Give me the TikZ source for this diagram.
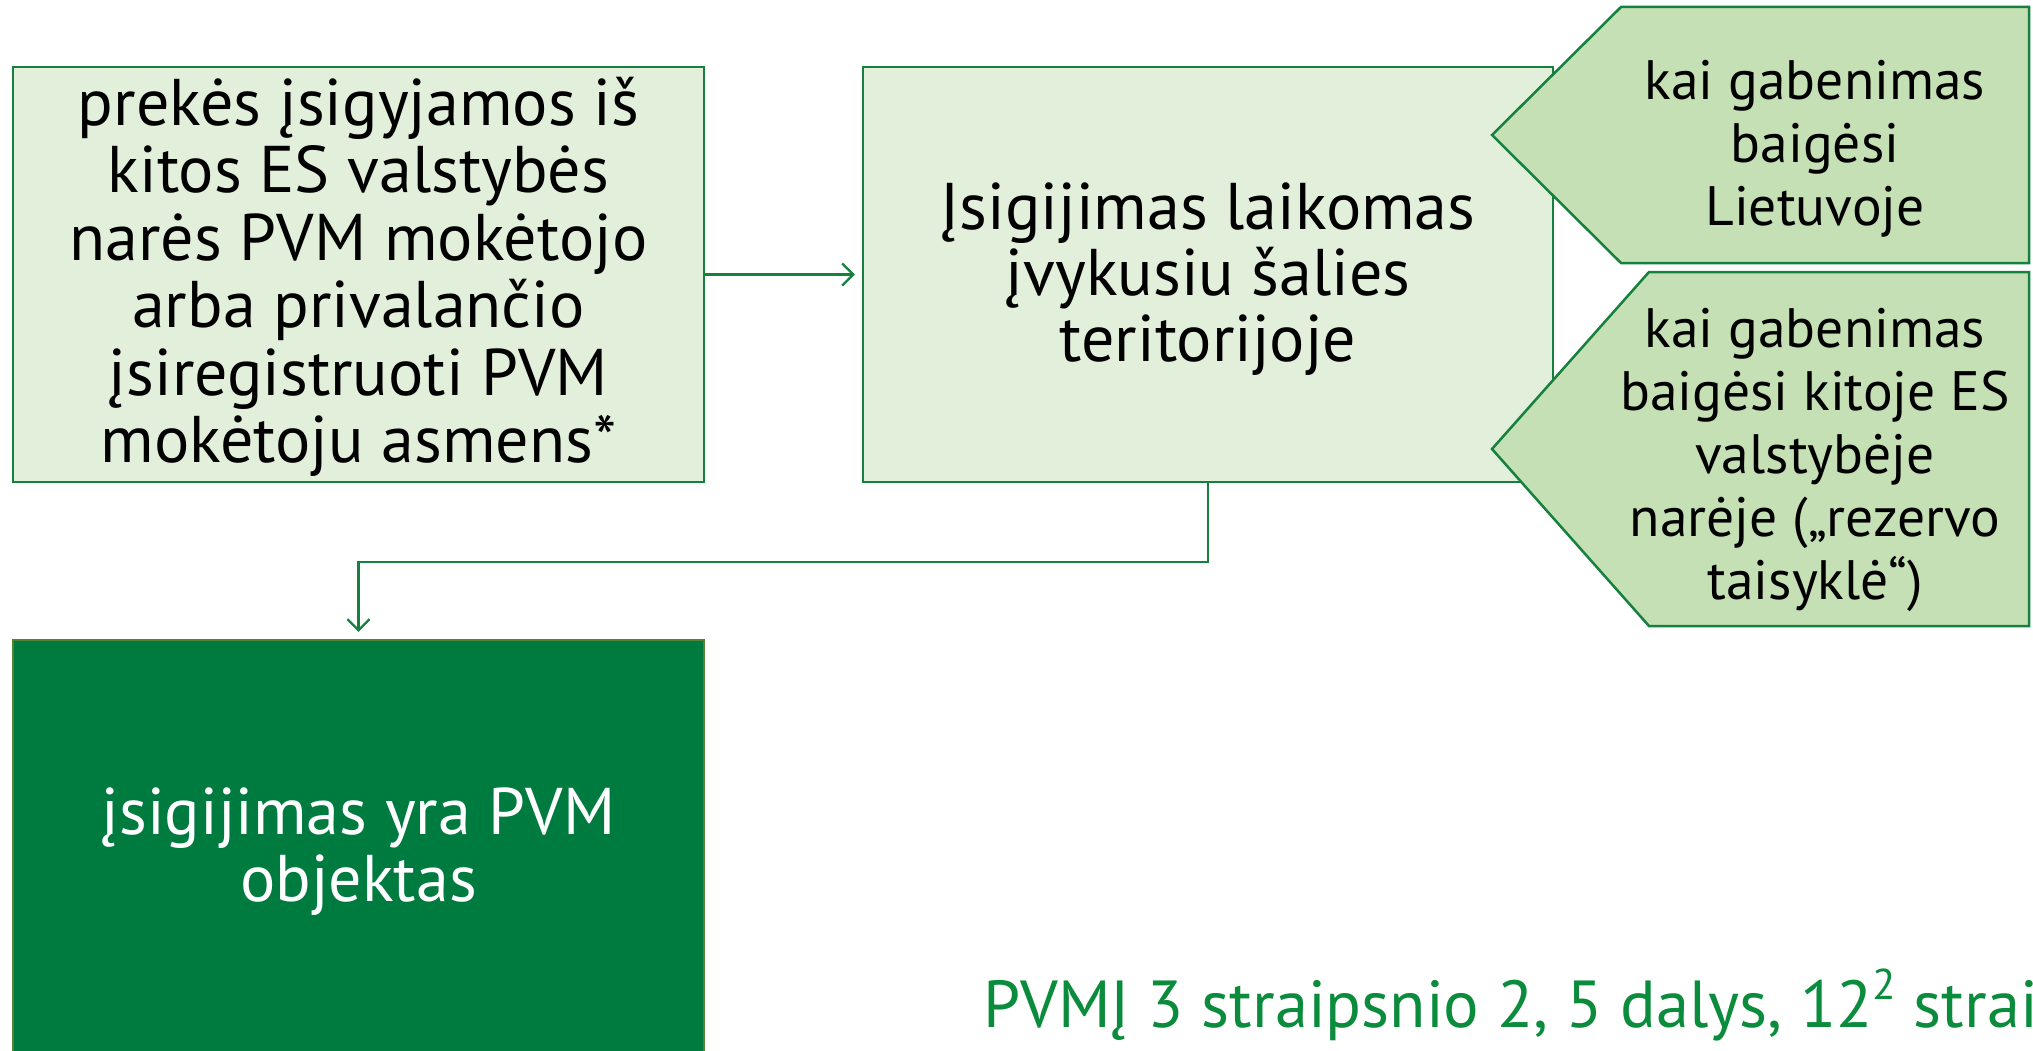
\documentclass[tikz,border=0pt]{standalone}
\usepackage{fontspec}
\setmainfont{PT Sans}
\usetikzlibrary{arrows.meta}
\definecolor{bordergreen}{RGB}{22,128,62}
\definecolor{lightfill}{RGB}{226,239,218}
\definecolor{pentfill}{RGB}{197,224,180}
\definecolor{darkfill}{RGB}{0,123,63}
\definecolor{darkborder}{RGB}{84,130,53}
\definecolor{reftext}{RGB}{10,140,60}
\newcommand{\mysup}[1]{\raisebox{0.42em}{\fontsize{43}{43}\selectfont #1}}
\begin{document}
\begin{tikzpicture}[x=1pt,y=-1pt,
  lightbox/.style={draw=bordergreen, line width=2.5pt, fill=lightfill,
    minimum width=691pt, minimum height=415pt, inner sep=0pt, align=center,
    font=\fontsize{66}{67.5}\selectfont},
  darkbox/.style={draw=darkborder, line width=2.5pt, fill=darkfill, text=white,
    minimum width=691pt, minimum height=415pt, inner sep=0pt, align=center,
    font=\fontsize{66}{67}\selectfont},
  pent/.style={draw=bordergreen, line width=2.5pt, fill=pentfill},
  penttext/.style={align=center, inner sep=0pt, font=\fontsize{55.5}{63}\selectfont},
  conn/.style={draw=bordergreen, line width=2.2pt, -{Straight Barb[length=11pt,width=22pt,line width=2.2pt]}}
]
\useasboundingbox (0,0) rectangle (2033,1051);
\clip (0,0) rectangle (2033,1051);

\node[lightbox] (A) at (358.5,274.5) {};
\node[align=center, inner sep=0pt, font=\fontsize{66}{67.5}\selectfont] (Atext) at (358.5,277) {prekės įsigyjamos iš\\kitos ES valstybės\\narės PVM mokėtojo\\arba privalančio\\įsiregistruoti PVM\\mokėtoju asmens*};
\node[lightbox, minimum width=690pt] (B) at (1208,274.5) {};
\node[align=center, inner sep=0pt, font=\fontsize{66}{66}\selectfont] (Btext) at (1208,279) {Įsigijimas laikomas\\įvykusiu šalies\\teritorijoje};
\node[darkbox] (C) at (358.5,847.5) {};
\node[align=center, inner sep=0pt, text=white, font=\fontsize{66}{67}\selectfont] (Ctext) at (358.5,852) {įsigijimas yra PVM\\objektas};

\draw[pent] (1492,135) -- (1621,7) -- (2029,7) -- (2029,263) -- (1621,263) -- cycle;
\node[penttext] (P1) at (1815,149) {kai gabenimas\\baigėsi\\Lietuvoje};
\draw[pent] (1492,449) -- (1649,272) -- (2029,272) -- (2029,626) -- (1649,626) -- cycle;
\node[penttext] (P2) at (1815,460) {kai gabenimas\\baigėsi kitoje ES\\valstybėje\\narėje („rezervo\\taisyklė“)};

\draw[conn, shorten >=7pt] (A.east) -- (B.west);
\draw[conn, shorten >=7pt] (B.south) -- ++(0,79) -| (C.north);

\node[anchor=base west, inner sep=0pt, text=reftext, font=\fontsize{66.5}{70}\selectfont] (ref) at (983,1027) {PVMĮ 3 straipsnio 2, 5 dalys, 12\mysup{2} strai};
\end{tikzpicture}
\end{document}
